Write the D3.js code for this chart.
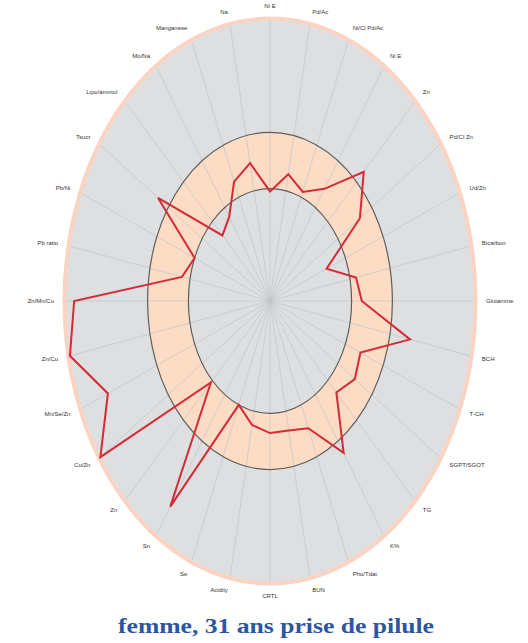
<!DOCTYPE html>
<html>
<head>
<meta charset="utf-8">
<script src="https://cdn.jsdelivr.net/npm/d3@7"></script>
<style>
	body { margin: 0; background: #fff; }
	svg { display: block; }
</style>
</head>
<body>
<div id="plot"></div>
<script>
	// radar chart, 32 axes, drawn on an ellipse

	const w = 528;
	const h = 643;
	const cx = 270;
	const cy = 301;
	const rx = 204;
	const ry = 281;

	const labels = ["Ni E", "Pd/Ac", "Ni/Cl Pd/Ac", "Ni E", "Zn", "Pd/Cl Zn", "Ud/Zn", "Bicarbon",
		"Glutamine", "BCH", "T-CH", "SGPT/SGOT", "TG", "K%", "Pho/Tdat", "BUN",
		"CRTL", "Acidity", "Se", "Sn", "Zn", "Cu/Zn", "Mn/Se/Zn", "Zn/Cu",
		"Zn/Mn/Cu", "Pb ratio", "Pb/Ni", "Tsucr", "Lipo/ammol", "Mo/Na", "Manganese", "Na"];

	const values = [39, 46, 42, 48, 65, 53, 30, 43,
		45, 70, 48, 50, 46, 65, 49, 47,
		47, 45, 40, 88, 41, 100, 86, 100,
		96, 44, 40, 66, 33, 36, 46, 50];

	const normalBand = [40, 60];
	const maxValue = 100;
	const title = "femme, 31 ans  prise de pilule";

	const rScale = d3.scaleLinear()
		.domain([0, maxValue])
		.range([0, 1]);

	const aScale = d3.scaleLinear()
		.domain([0, labels.length])
		.range([0, 2 * Math.PI]);

	const px = (i, v) => cx + rx * rScale(v) * Math.sin(aScale(i));
	const py = (i, v) => cy - ry * rScale(v) * Math.cos(aScale(i));

	const svg = d3.select("div#plot")
		.append("svg")
		.attr("width", w)
		.attr("height", h);

	// background ellipses

	svg.append("ellipse")
		.attr("cx", cx).attr("cy", cy)
		.attr("rx", rx * rScale(maxValue))
		.attr("ry", ry * rScale(maxValue))
		.attr("fill", "#dddfe0");

	svg.append("ellipse")
		.attr("cx", cx).attr("cy", cy)
		.attr("rx", rx * rScale(normalBand[1]))
		.attr("ry", ry * rScale(normalBand[1]))
		.attr("fill", "#fcdcc4");

	svg.append("ellipse")
		.attr("cx", cx).attr("cy", cy)
		.attr("rx", rx * rScale(normalBand[0]))
		.attr("ry", ry * rScale(normalBand[0]))
		.attr("fill", "#dddfe0");

	// spokes

	svg.append("g")
		.selectAll("line")
		.data(labels)
		.enter().append("line")
		.attr("x1", cx)
		.attr("y1", cy)
		.attr("x2", (d, i) => px(i, maxValue))
		.attr("y2", (d, i) => py(i, maxValue))
		.attr("stroke", "#c2c6c9")
		.attr("stroke-width", 0.7);

	// band outlines and outer border

	svg.append("g")
		.selectAll("ellipse")
		.data(normalBand)
		.enter().append("ellipse")
		.attr("cx", cx).attr("cy", cy)
		.attr("rx", d => rx * rScale(d))
		.attr("ry", d => ry * rScale(d))
		.attr("fill", "none")
		.attr("stroke", "#5e5e5e")
		.attr("stroke-width", 1.2);

	svg.append("ellipse")
		.attr("cx", cx).attr("cy", cy)
		.attr("rx", rx * rScale(maxValue) + 1.5)
		.attr("ry", ry * rScale(maxValue) + 1.5)
		.attr("fill", "none")
		.attr("stroke", "#fad3c3")
		.attr("stroke-width", 4);

	// patient values

	const line = d3.line()
		.x((d, i) => px(i, d))
		.y((d, i) => py(i, d))
		.curve(d3.curveLinearClosed);

	svg.append("path")
		.datum(values)
		.attr("d", line)
		.attr("fill", "none")
		.attr("stroke", "#d62a36")
		.attr("stroke-width", 2)
		.attr("stroke-linejoin", "miter");

	// axis labels

	svg.append("g")
		.selectAll("text")
		.data(labels)
		.enter().append("text")
		.attr("x", (d, i) => px(i, maxValue) + 12 * Math.sin(aScale(i)))
		.attr("y", (d, i) => py(i, maxValue) - 14 * Math.cos(aScale(i)) + 2)
		.attr("text-anchor", (d, i) => {
			const s = Math.sin(aScale(i));
			return s > 0.15 ? "start" : (s < -0.15 ? "end" : "middle");
		})
		.attr("font-family", "Liberation Sans, Arial, sans-serif")
		.attr("font-size", 6)
		.attr("fill", "#333")
		.text(d => d);

	// title

	svg.append("text")
		.attr("x", 276)
		.attr("y", 633)
		.attr("text-anchor", "middle")
		.attr("font-family", "Liberation Serif, Times New Roman, serif")
		.attr("font-weight", "bold")
		.attr("font-size", 22)
		.attr("fill", "#2c56a3")
		.attr("textLength", 316)
		.attr("lengthAdjust", "spacingAndGlyphs")
		.text(title);
</script>
</body>
</html>
